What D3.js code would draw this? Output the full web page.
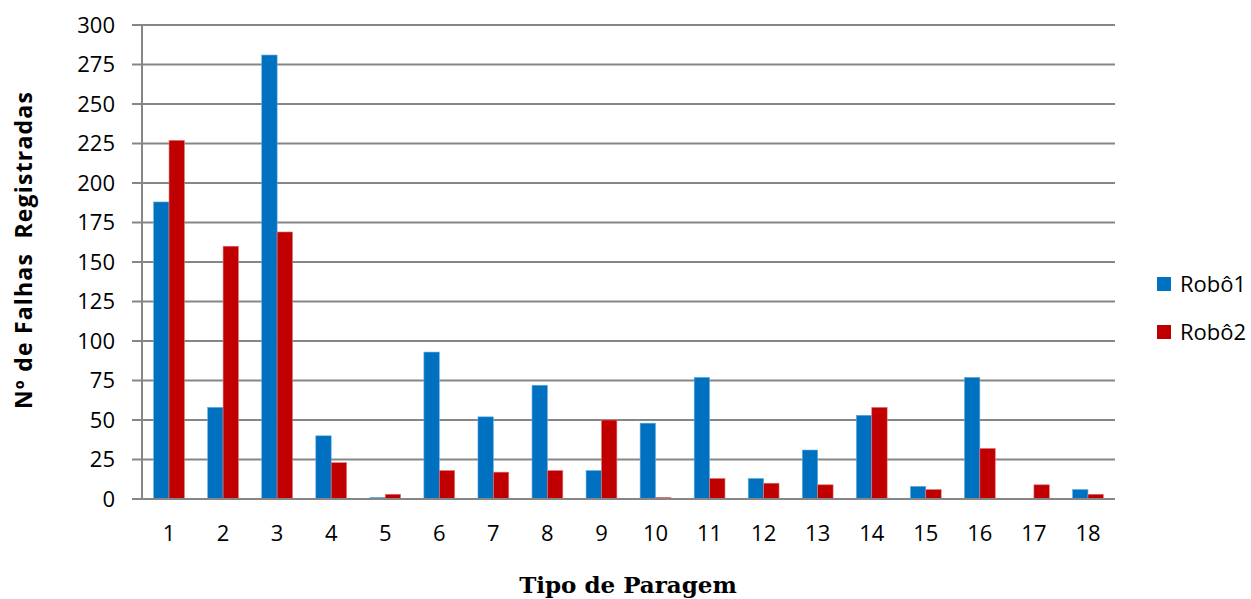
<!DOCTYPE html>
<html>
<head>
<meta charset="utf-8">
<script src="https://cdn.jsdelivr.net/npm/d3@7"></script>
<style>
  body { margin: 0; background: #fff; }
  text { font-family: 'Open Sans', Lato, sans-serif; fill: #000; }
</style>
</head>
<body>
<div id="chart"></div>
<script>
// data
const tipos = ['1', '2', '3', '4', '5', '6', '7', '8', '9', '10', '11', '12', '13', '14', '15', '16', '17', '18']
const robo1 = [188, 58, 281, 40, 1, 93, 52, 72, 18, 48, 77, 13, 31, 53, 8, 77, 0, 6]
const robo2 = [227, 160, 169, 23, 3, 18, 17, 18, 50, 1, 13, 10, 9, 58, 6, 32, 9, 3]
const series = ['Robô1', 'Robô2']
const colors = ['#0070C0', '#C00000']
const yTicks = [0, 25, 50, 75, 100, 125, 150, 175, 200, 225, 250, 275, 300]

const W = 1251
const H = 599
const margin = { top: 25, right: 136, bottom: 100, left: 142 }
const width = W - margin.left - margin.right
const height = H - margin.top - margin.bottom

const data = tipos.map((t, i) => ({ tipo: t, values: [robo1[i], robo2[i]] }))

const svg = d3.select('#chart')
  .append('svg')
  .attr('width', W)
  .attr('height', H)

const g = svg.append('g')
  .attr('transform', 'translate(' + margin.left + ',' + margin.top + ')')

const x = d3.scaleBand()
  .domain(tipos)
  .range([0, width])
  .paddingInner(0.43)
  .paddingOuter(0.215)

const xs = d3.scaleBand()
  .domain(series)
  .range([0, x.bandwidth()])

const y = d3.scaleLinear()
  .domain([0, 300])
  .range([height, 0])

// gridlines
g.append('g')
  .selectAll('line')
  .data(yTicks)
  .join('line')
  .attr('x1', -10)
  .attr('x2', width)
  .attr('y1', d => y(d))
  .attr('y2', d => y(d))
  .attr('stroke', '#868686')
  .attr('stroke-width', 2)

// y axis labels
const yAxis = g.append('g')
  .call(d3.axisLeft(y).tickValues(yTicks).tickSize(0).tickPadding(27))
yAxis.select('.domain').remove()
yAxis.selectAll('text')
  .style('font-family', "'Open Sans', sans-serif")
  .style('font-size', '22px')
  .attr('fill', '#000')

// bars
const groups = g.append('g')
  .selectAll('g')
  .data(data)
  .join('g')
  .attr('transform', d => 'translate(' + x(d.tipo) + ',0)')

groups.selectAll('rect')
  .data(d => d.values.map((v, i) => ({ key: series[i], value: v, i })))
  .join('rect')
  .attr('x', d => xs(d.key))
  .attr('width', xs.bandwidth())
  .attr('y', d => y(d.value))
  .attr('height', d => height - y(d.value))
  .attr('fill', d => colors[d.i])
  .attr('stroke', d => d.i === 0 ? '#6aaee0' : '#e07a7a')
  .attr('stroke-width', d => d.value > 0 ? 0.6 : 0)

// left axis line
g.append('line')
  .attr('x1', 0).attr('x2', 0)
  .attr('y1', 0).attr('y2', height + 1)
  .attr('stroke', '#868686')
  .attr('stroke-width', 2)

// bottom axis line on top of bars
g.append('line')
  .attr('x1', -10).attr('x2', width)
  .attr('y1', height).attr('y2', height)
  .attr('stroke', '#868686')
  .attr('stroke-width', 2)

// x axis labels
const xAxis = g.append('g')
  .attr('transform', 'translate(0,' + height + ')')
  .call(d3.axisBottom(x).tickSize(0).tickPadding(26))
xAxis.select('.domain').remove()
xAxis.selectAll('text')
  .style('font-family', "'Open Sans', sans-serif")
  .style('font-size', '22px')
  .attr('fill', '#000')

// axis titles
svg.append('text')
  .attr('transform', 'translate(32,250) rotate(-90)')
  .attr('text-anchor', 'middle')
  .style('font-size', '23px')
  .style('font-weight', 'bold')
  .style('letter-spacing', '1.2px')
  .style('white-space', 'pre')
  .text('Nº de Falhas  Registradas')

svg.append('text')
  .attr('x', 628)
  .attr('y', 593)
  .attr('text-anchor', 'middle')
  .style('font-family', "'DejaVu Serif', serif")
  .style('font-size', '23px')
  .style('font-weight', 'bold')
  .text('Tipo de Paragem')

// legend
const legend = svg.append('g')
  .attr('transform', 'translate(1157,277)')
series.forEach((s, i) => {
  const row = legend.append('g').attr('transform', 'translate(0,' + (i * 48) + ')')
  row.append('rect')
    .attr('width', 14)
    .attr('height', 14)
    .attr('fill', colors[i])
  row.append('text')
    .attr('x', 23)
    .attr('y', 15)
    .style('font-size', '22px')
    .text(s)
})
</script>
</body>
</html>
